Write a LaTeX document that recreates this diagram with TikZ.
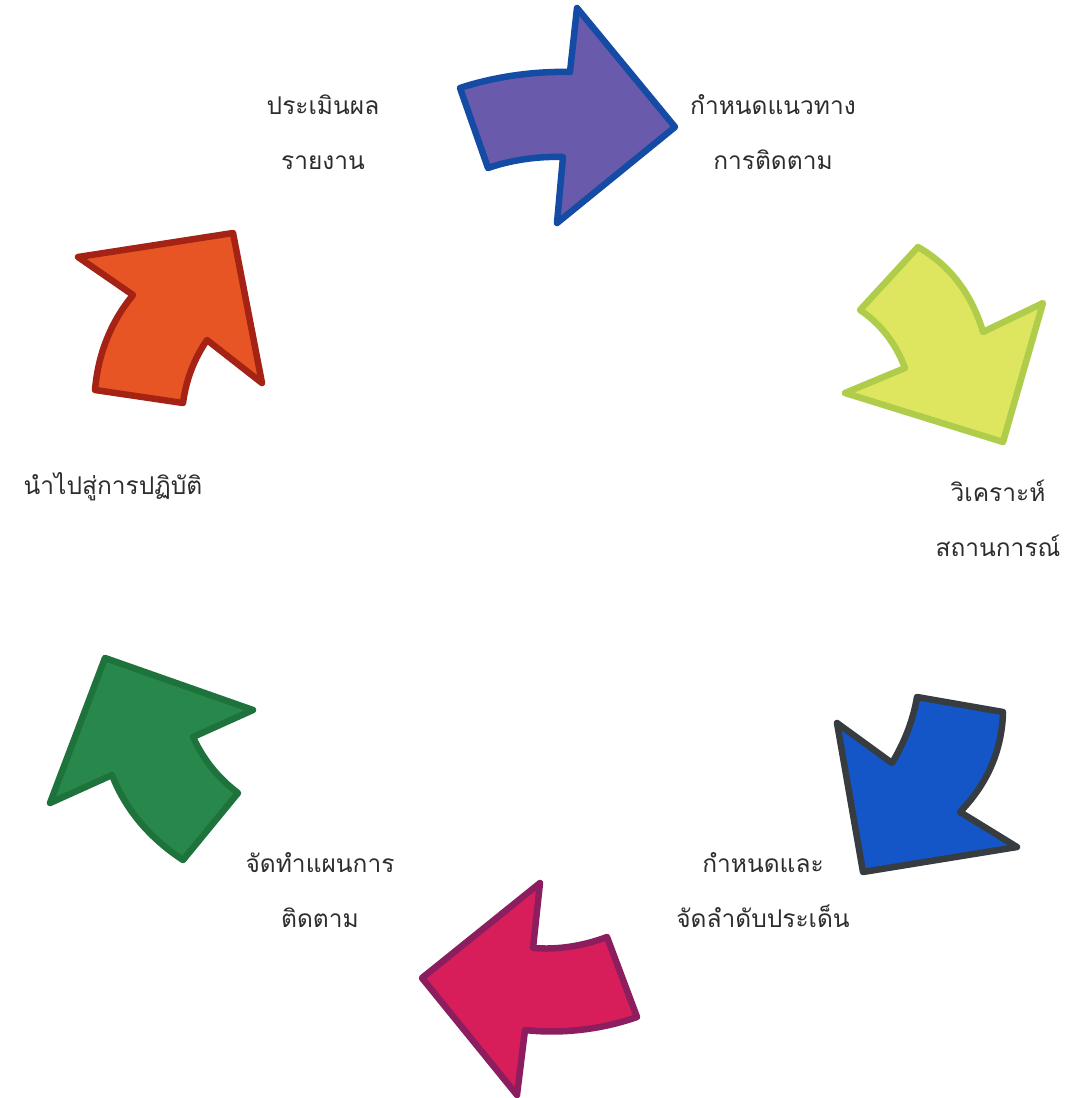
\documentclass[tikz,border=0pt]{standalone}
\usepackage{fontspec}
\usepackage{tikz}
\newfontfamily\thaifont[Script=Thai]{Loma}
\definecolor{purplefill}{RGB}{106,90,172}
\definecolor{purpleline}{RGB}{20,75,165}
\definecolor{yellowfill}{RGB}{222,230,95}
\definecolor{yellowline}{RGB}{175,205,75}
\definecolor{bluefill}{RGB}{20,85,200}
\definecolor{blueline}{RGB}{55,60,65}
\definecolor{pinkfill}{RGB}{215,30,90}
\definecolor{pinkline}{RGB}{140,30,95}
\definecolor{greenfill}{RGB}{40,135,75}
\definecolor{greenline}{RGB}{30,115,60}
\definecolor{orangefill}{RGB}{230,85,35}
\definecolor{orangeline}{RGB}{165,35,20}
\definecolor{textgray}{RGB}{45,45,45}

\begin{document}
\begin{tikzpicture}[x=1pt,y=-1pt,
        thailabel/.style={font=\thaifont\fontsize{24.5}{55}\selectfont, text=textgray, align=center},
        cyclearrow/.style 2 args={fill=#1, draw=#2, line width=6.5pt, line join=round}]
        \useasboundingbox (0,0) rectangle (1065,1098);

        \draw[cyclearrow={purplefill}{purpleline}] (460,88) .. controls (490,78) and (530,71) .. (570,72) -- (577,8) -- (675,127) -- (557,223) -- (563,157) .. controls (535,156) and (508,161) .. (488,168) -- cycle;
        \draw[cyclearrow={yellowfill}{yellowline}] (918,247) .. controls (951,266) and (972,295) .. (983,332) -- (1043,303) -- (1003,442) -- (845,393) -- (905,368) .. controls (896,344) and (881,324) .. (860,310) -- cycle;
        \draw[cyclearrow={bluefill}{blueline}] (917,697) -- (1003,712) .. controls (1002,751) and (987,784) .. (960,812) -- (1017,847) -- (863,872) -- (837,723) -- (892,763) .. controls (904,743) and (913,721) .. (917,697) -- cycle;
        \draw[cyclearrow={pinkfill}{pinkline}] (540,883) -- (533,948) .. controls (558,950) and (583,946) .. (607,937) -- (637,1017) .. controls (600,1030) and (560,1034) .. (525,1030) -- (517,1095) -- (422,978) -- cycle;
        \draw[cyclearrow={greenfill}{greenline}] (105,658) -- (253,710) -- (193,737) .. controls (203,759) and (218,778) .. (238,793) -- (183,860) .. controls (151,839) and (126,811) .. (112,775) -- (50,803) -- cycle;
        \draw[cyclearrow={orangefill}{orangeline}] (233,233) -- (262,383) -- (207,340) .. controls (194,359) and (186,380) .. (183,403) -- (95,390) .. controls (98,355) and (110,323) .. (133,295) -- (78,257) -- cycle;

        \node[thailabel] (evaluate) at (323,132) {ประเมินผล\\รายงาน};
        \node[thailabel] (guideline) at (773,132) {กำหนดแนวทาง\\การติดตาม};
        \node[thailabel] (analyse) at (998,518) {วิเคราะห์\\สถานการณ์};
        \node[thailabel] (priority) at (763,890) {กำหนดและ\\จัดลำดับประเด็น};
        \node[thailabel] (plan) at (320,890) {จัดทำแผนการ\\ติดตาม};
        \node[thailabel] (practice) at (113,487) {นำไปสู่การปฏิบัติ};
\end{tikzpicture}
\end{document}
